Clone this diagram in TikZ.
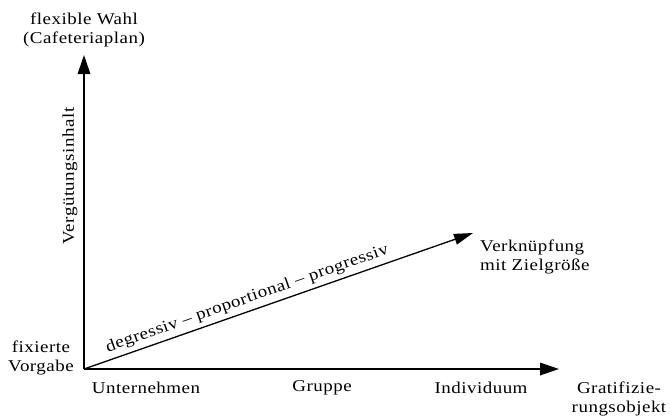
\documentclass[tikz,border=0pt]{standalone}
\usepackage{fontspec}
\setmainfont{Liberation Serif}[FakeStretch=1.15,LetterSpace=3]
\usetikzlibrary{arrows.meta}
\begin{document}
\begin{tikzpicture}[x=1pt,y=-1pt,
  axis/.style={line width=1.8pt,-{Triangle[length=19pt,width=12.5pt]}},
  diag/.style={line width=1.3pt,-{Triangle[length=19pt,width=11pt]}},
  lbl/.style={font=\fontsize{16.5}{19}\selectfont,inner sep=0pt,align=center}]
\useasboundingbox (0,0) rectangle (671,416);
% axis end points
\coordinate (O) at (84,369);
\coordinate (Ytop) at (84,55);
\coordinate (Xend) at (559,369);
\coordinate (Dend) at (473,233);
% axes and the linkage arrow
\draw[axis] (O) -- (Ytop);
\draw[axis] (O) -- (Xend);
\draw[diag] (O) -- (Dend)
  node[pos=0.43,above=4pt,sloped,lbl] (dlab) {degressiv -- proportional -- progressiv};
% labels of the vertical axis
\node[lbl] (top) at (84,30) {flexible Wahl\\(Cafeteriaplan)};
\node[lbl,rotate=90] (vlab) at (70,176) {Vergütungsinhalt};
\node[lbl] (fix) at (41,358) {fixierte\\Vorgabe};
% labels of the horizontal axis
\node[lbl] (u) at (146,388) {Unternehmen};
\node[lbl] (g) at (322,388) {Gruppe};
\node[lbl] (i) at (481,388) {Individuum};
\node[lbl] (go) at (619,399) {Gratifizie-\\rungsobjekt};
% label at the tip of the linkage arrow
\node[lbl,align=left,anchor=west] (vk) at (480,257) {Verknüpfung\\mit Zielgröße};
\end{tikzpicture}
\end{document}
